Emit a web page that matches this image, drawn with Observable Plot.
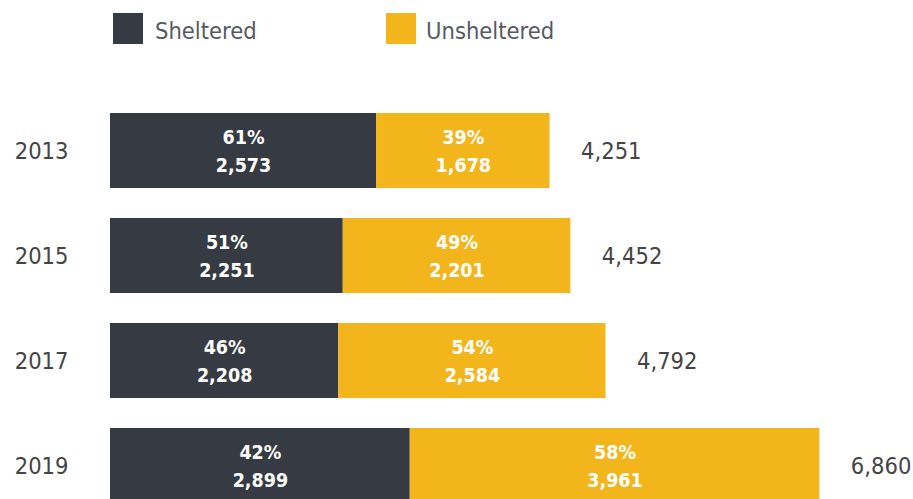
<!DOCTYPE html>
<html>
<head>
<meta charset="utf-8">
<script src="https://cdn.jsdelivr.net/npm/d3@7"></script>
<script src="https://cdn.jsdelivr.net/npm/@observablehq/plot@0.6"></script>
<style>
  html, body { margin: 0; padding: 0; background: #fff; overflow: hidden; }
  body { width: 913px; height: 499px; font-family: "Liberation Sans Narrow", "DejaVu Sans Condensed", "Roboto Condensed", sans-serif; font-stretch: condensed; }
  #legend { position: relative; height: 60px; }
  .sw { position: absolute; top: 13px; width: 30px; height: 31px; }
  .lab { position: absolute; top: 16px; font-size: 23.5px; line-height: 31px; color: #555a62; }
  #chart svg { display: block; }
</style>
</head>
<body>
<div id="legend"></div>
<div id="chart"></div>
<script>
const years = ["2013", "2015", "2017", "2019"];
const sheltered = [2573, 2251, 2208, 2899];
const unsheltered = [1678, 2201, 2584, 3961];
const shelteredPct = [61, 51, 46, 42];
const unshelteredPct = [39, 49, 54, 58];
const totals = [4251, 4452, 4792, 6860];
const categories = ["Sheltered", "Unsheltered"];
const colors = ["#363a43", "#f2b61c"];

const fmt = d3.format(",");
const rows = [];
years.forEach((y, i) => {
  rows.push({year: y, category: categories[0], value: sheltered[i], pct: shelteredPct[i]});
  rows.push({year: y, category: categories[1], value: unsheltered[i], pct: unshelteredPct[i]});
});
const totalRows = years.map((y, i) => ({year: y, total: totals[i]}));

// legend
const legend = document.getElementById("legend");
const legendPos = [[113, 155], [386, 426]];
categories.forEach((c, i) => {
  const sw = document.createElement("div");
  sw.className = "sw";
  sw.style.left = legendPos[i][0] + "px";
  sw.style.background = colors[i];
  const lab = document.createElement("div");
  lab.className = "lab";
  lab.style.left = legendPos[i][1] + "px";
  lab.textContent = c;
  legend.appendChild(sw);
  legend.appendChild(lab);
});

const fontFam = '"Liberation Sans Narrow", "DejaVu Sans Condensed", "Roboto Condensed", sans-serif';

const plot = Plot.plot({
  width: 913,
  height: 470,
  marginLeft: 110,
  marginRight: 27.5,
  marginTop: 38,
  marginBottom: 12,
  style: {fontFamily: fontFam, background: "#fff"},
  x: {domain: [0, 7500], axis: null},
  y: {domain: years, paddingInner: 0.2857, paddingOuter: 0.14285, label: null, tickSize: 0, tickPadding: 42},
  color: {domain: categories, range: colors},
  marks: [
    Plot.barX(rows, Plot.stackX({x: "value", y: "year", fill: "category", order: categories})),
    Plot.text(rows, Plot.stackX({
      x: "value", y: "year", z: "category", order: categories,
      text: d => `${d.pct}%\n${fmt(d.value)}`,
      fill: "white", fontSize: 19.5, fontWeight: "bold", lineHeight: 1.45, dy: -2
    })),
    Plot.text(totalRows, {
      x: "total", y: "year", text: d => fmt(d.total),
      textAnchor: "start", dx: 31, fontSize: 23.5, fill: "#444"
    }),
    Plot.axisY({tickSize: 0, tickPadding: 42, fontSize: 23.5, label: null, color: "#444"})
  ]
});
document.getElementById("chart").appendChild(plot);
</script>
</body>
</html>
